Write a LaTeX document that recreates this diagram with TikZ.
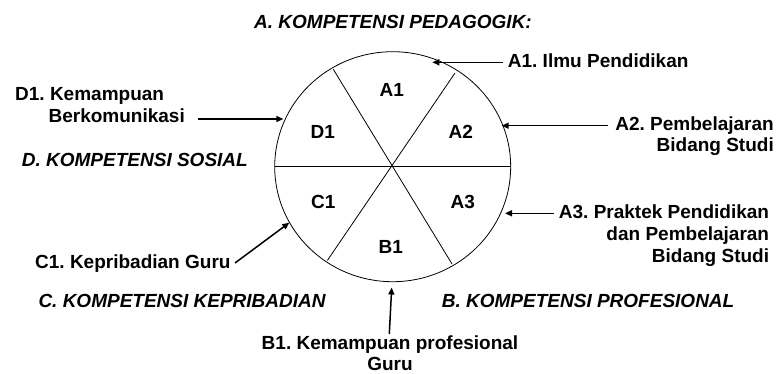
\documentclass[tikz,border=0pt]{standalone}
\usepackage{fontspec}
\setmainfont{Liberation Sans}
\usetikzlibrary{arrows.meta,calc}
\begin{document}
\frenchspacing
\begin{tikzpicture}[x=1pt,y=-1pt,
  lbl/.style={inner sep=0pt,font=\fontsize{19}{22}\selectfont\bfseries},
  ttl/.style={inner sep=0pt,font=\fontsize{19}{22}\selectfont\bfseries\itshape},
  seg/.style={inner sep=0pt,font=\fontsize{19}{22}\selectfont\bfseries},
  arr/.style={line width=1.5pt,-{Triangle[length=7pt,width=6pt]}},
  thin/.style={line width=0.8pt}]
\useasboundingbox (0,0) rectangle (777,373);
% circle
\coordinate (c) at (392.7,166.7);
\draw[thin] (c) ellipse [x radius=118, y radius=115];
\coordinate (h1) at (274.7,166.7);
\coordinate (h2) at (510.7,166.7);
\coordinate (p1) at ($(c)+(-59.4,-97.4)$);
\coordinate (p2) at ($(c)+(59.4,97.4)$);
\coordinate (q1) at ($(c)+(62.3,-93.7)$);
\coordinate (q2) at ($(c)+(-65.3,93.7)$);
\draw[thin] (h1) -- (h2);
\draw[thin] (p1) -- (p2);
\draw[thin] (q1) -- (q2);
% segment labels
\node[seg] (sA1) at (391.7,89.7) {A1};
\node[seg] (sD1) at (322.8,132.3) {D1};
\node[seg] (sA2) at (460.7,131.5) {A2};
\node[seg] (sC1) at (323.3,201.7) {C1};
\node[seg] (sA3) at (462.7,201.7) {A3};
\node[seg] (sB1) at (390.7,246.7) {B1};
% titles
\node[ttl,anchor=base] (tA) at (393,28) {A. KOMPETENSI PEDAGOGIK:};
\node[ttl,anchor=base west] (tD) at (21.7,166) {D. KOMPETENSI SOSIAL};
\node[ttl,anchor=base west] (tC) at (38.3,307) {C. KOMPETENSI KEPRIBADIAN};
\node[ttl,anchor=base west] (tB) at (441.7,307) {B. KOMPETENSI PROFESIONAL};
% outer labels
\node[lbl,anchor=base west] (lA1) at (507.7,67.5) {A1. Ilmu Pendidikan};
\node[lbl,anchor=base east] (lA2a) at (774,130) {A2. Pembelajaran};
\node[lbl,anchor=base east] (lA2b) at (774,151) {Bidang Studi};
\node[lbl,anchor=base east] (lA3a) at (769.3,218.5) {A3. Praktek Pendidikan};
\node[lbl,anchor=base east] (lA3b) at (769.3,240) {dan Pembelajaran};
\node[lbl,anchor=base east] (lA3c) at (769.3,262) {Bidang Studi};
\node[lbl,anchor=base] (lB1a) at (390,349.5) {B1. Kemampuan profesional};
\node[lbl,anchor=base] (lB1b) at (390,370) {Guru};
\node[lbl,anchor=base west] (lC1) at (35,268.5) {C1. Kepribadian Guru};
\node[lbl,anchor=base west] (lD1a) at (15,100) {D1. Kemampuan};
\node[lbl,anchor=base east] (lD1b) at (185,122) {Berkomunikasi};
% arrow ends
\coordinate (eA1) at (432.3,62.3);
\coordinate (sA1a) at (503,62.3);
\coordinate (eA2) at (501.7,125.7);
\coordinate (sA2a) at (608.3,125.7);
\coordinate (eA3) at (505,213.3);
\coordinate (sA3a) at (554,213.3);
\coordinate (eB1) at (391.7,287.5);
\coordinate (sB1a) at (389.3,334);
\coordinate (eC1) at (289.3,222.7);
\coordinate (sC1a) at (235,263);
\coordinate (eD1) at (283.3,119);
\coordinate (sD1a) at (198.3,119);
\draw[arr] (sA1a) -- (eA1);
\draw[arr] (sA2a) -- (eA2);
\draw[arr] (sA3a) -- (eA3);
\draw[arr] (sB1a) -- (eB1);
\draw[arr] (sC1a) -- (eC1);
\draw[arr] (sD1a) -- (eD1);
\end{tikzpicture}
\end{document}
